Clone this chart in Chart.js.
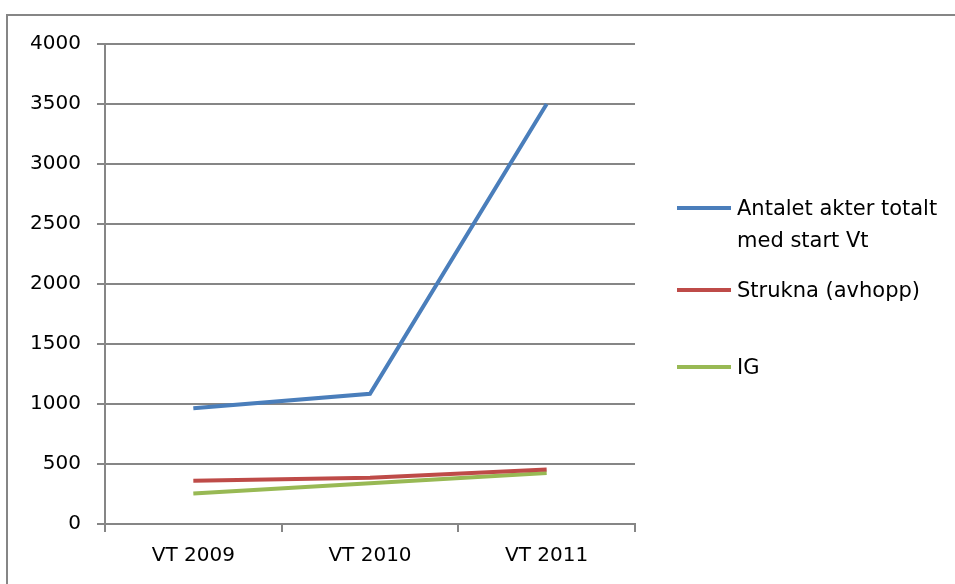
<!DOCTYPE html>
<html>
<head>
<meta charset="utf-8">
<script src="https://cdn.jsdelivr.net/npm/chart.js@4"></script>
<style>
  html, body { margin: 0; padding: 0; background: #fff; overflow: hidden; }
  #wrap { position: relative; width: 955px; height: 584px; }
  #frame { position: absolute; left: 6px; top: 14px; width: 1000px; height: 1000px; border: 2px solid #868686; box-sizing: border-box; }
  #chart { position: absolute; left: 0; top: 0; }
  .leg { position: absolute; left: 677px; font-family: "DejaVu Sans", sans-serif; font-size: 21px; color: #000; line-height: 32px; }
  .leg .swatch { position: absolute; left: 0; top: 14px; width: 54px; height: 4px; }
  .leg .txt { position: absolute; left: 60px; white-space: pre; }
</style>
</head>
<body>
<div id="wrap">
  <div id="frame"></div>
  <canvas id="chart" width="955" height="584"></canvas>
  <div id="legend"></div>
</div>
<script>
// values
const categories = ['VT 2009', 'VT 2010', 'VT 2011'];
const seriesNames = ['Antalet akter totalt\nmed start Vt', 'Strukna (avhopp)', 'IG'];
const antaletAkter = [965, 1085, 3500];
const strukna = [360, 385, 455];
const ig = [255, 340, 425];
const yTicks = [0, 500, 1000, 1500, 2000, 2500, 3000, 3500, 4000];

const colors = ['#4A7EBB', '#BE4B48', '#98B954'];
const gridGray = '#868686';
const tickFont = { family: 'DejaVu Sans', size: 20 };

const ctx = document.getElementById('chart');
const chart = new Chart(ctx, {
    type: 'line',
    data: {
        labels: categories,
        datasets: [antaletAkter, strukna, ig].map(function(vals, i) {
            return {
                label: seriesNames[i],
                data: vals,
                borderColor: colors[i],
                backgroundColor: colors[i],
                borderWidth: 4,
                pointRadius: 0,
                tension: 0
            };
        })
    },
    options: {
        responsive: false,
        animation: false,
        layout: { padding: { top: 44, right: 320, left: 0, bottom: 0 } },
        plugins: { legend: { display: false }, tooltip: { enabled: false } },
        scales: {
            x: {
                offset: true,
                grid: { offset: true, drawOnChartArea: false, drawTicks: true, tickLength: 8, color: gridGray, lineWidth: 2 },
                border: { color: gridGray, width: 2 },
                ticks: { font: tickFont, color: '#000', padding: 12, maxRotation: 0 },
                afterFit: function(scale) { scale.height = 60; }
            },
            y: {
                min: 0,
                max: 4000,
                afterBuildTicks: function(scale) { scale.ticks = yTicks.map(function(v) { return { value: v }; }); },
                grid: { color: gridGray, lineWidth: 2, tickLength: 8 },
                border: { color: gridGray, width: 2 },
                ticks: {
                    font: tickFont, color: '#000', padding: 16,
                    callback: function(v) { return String(v); }
                },
                afterFit: function(scale) { scale.width = 105; }
            }
        }
    }
});

// legend on the right, as in the original
const legendTops = [192, 274, 351];
const legendEl = document.getElementById('legend');
seriesNames.forEach(function(name, i) {
    const item = document.createElement('div');
    item.className = 'leg';
    item.style.top = legendTops[i] + 'px';
    const sw = document.createElement('div');
    sw.className = 'swatch';
    sw.style.background = colors[i];
    const tx = document.createElement('div');
    tx.className = 'txt';
    tx.textContent = name;
    item.appendChild(sw);
    item.appendChild(tx);
    legendEl.appendChild(item);
});
</script>
</body>
</html>
